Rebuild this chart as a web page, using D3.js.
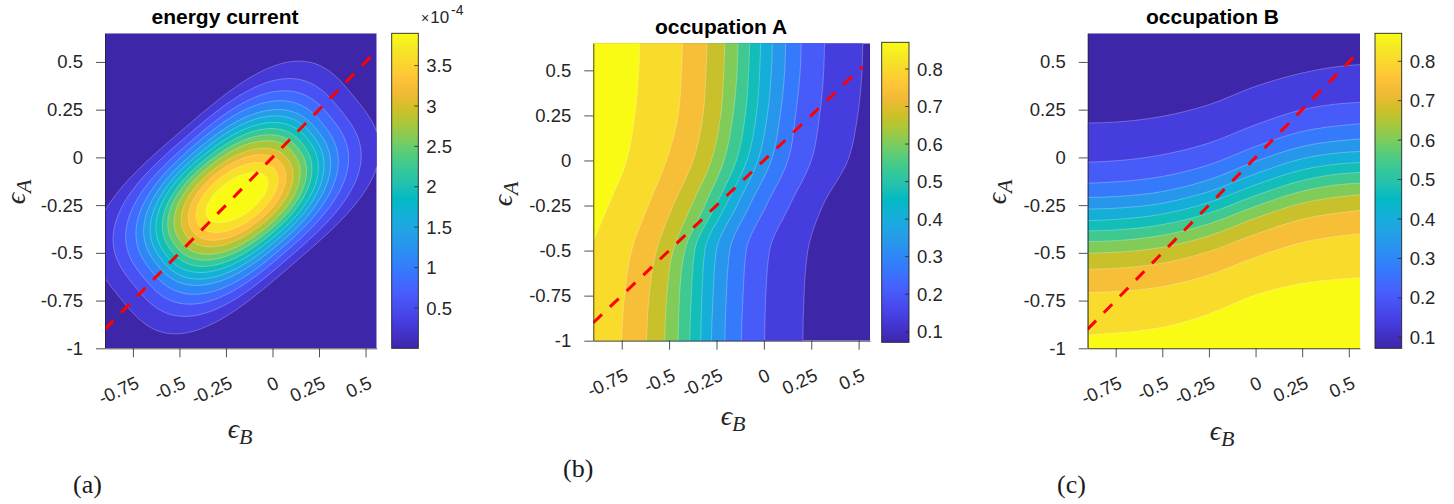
<!DOCTYPE html>
<html lang="en">
<head>
<meta charset="UTF-8">
<title>energy current / occupation A / occupation B</title>
<script src="https://cdn.jsdelivr.net/npm/d3@7"></script>
<style>
  body { margin: 0; background: #fff; }
  svg text { font-family: "Liberation Sans", Arial, sans-serif; }
  .serif { font-family: "Liberation Serif", "DejaVu Serif", serif; }
</style>
</head>
<body>
<svg id="fig" width="1454" height="504"></svg>
<script>
// shared axes
const xTicks = [-0.75, -0.5, -0.25, 0, 0.25, 0.5];
const yTicks = [-1, -0.75, -0.5, -0.25, 0, 0.25, 0.5];
const xDomain = [-0.9, 0.56];
const yDomain = [-1, 0.65];
const diagStart = -0.9;
const diagEnd = [0.535, 0.52, 0.538];   // end of the red dashed eps_A = eps_B line, per panel

// (a) energy current (x 1e-4): nested contours around the peak, outermost first
const energyCenter = [-0.19, -0.21];
const energyMajor = [0.82, 0.72, 0.655, 0.60, 0.556, 0.52, 0.486, 0.45, 0.417, 0.381, 0.338, 0.297, 0.251, 0.19];
const energyMinor = [0.46, 0.42, 0.385, 0.357, 0.33, 0.307, 0.285, 0.263, 0.242, 0.22, 0.192, 0.167, 0.136, 0.095];
const energyPower = [3.2, 2.9, 2.7, 2.55, 2.45, 2.4, 2.35, 2.3, 2.25, 2.2, 2.15, 2.1, 2.05, 2.0];
const energyTilt = [40, 40, 40, 40, 39, 39, 38, 38, 37, 37, 36, 36, 35, 34];
const energyRange = [0, 3.9];
const energyTicks = [0.5, 1, 1.5, 2, 2.5, 3, 3.5];

// (b) occupation A: eps_B of each contour line at these eps_A rows (low-value side first)
const occARows = [0.65, 0.5, 0.25, 0, -0.25, -0.5, -0.75, -1];
const occALines = [
  [0.522, 0.518, 0.495, 0.443, 0.311, 0.232, 0.212, 0.206],
  [0.320, 0.316, 0.294, 0.250, 0.136, 0.030, 0.010, 0.004],
  [0.197, 0.192, 0.167, 0.127, 0.013, -0.093, -0.110, -0.119],
  [0.115, 0.110, 0.086, 0.039, -0.075, -0.180, -0.198, -0.206],
  [0.045, 0.040, 0.018, -0.031, -0.142, -0.251, -0.268, -0.277],
  [-0.017, -0.022, -0.040, -0.089, -0.201, -0.312, -0.327, -0.333],
  [-0.075, -0.080, -0.098, -0.145, -0.254, -0.365, -0.383, -0.391],
  [-0.136, -0.141, -0.163, -0.210, -0.312, -0.417, -0.445, -0.452],
  [-0.206, -0.211, -0.228, -0.277, -0.382, -0.479, -0.512, -0.523],
  [-0.300, -0.305, -0.321, -0.373, -0.479, -0.567, -0.605, -0.619],
  [-0.429, -0.434, -0.452, -0.514, -0.610, -0.698, -0.735, -0.751],
  [-0.654, -0.660, -0.681, -0.724, -0.820, -0.915, -0.96, -0.97]
];

// (c) occupation B: eps_A of each contour line at these eps_B columns (low-value side first)
const occBCols = [-0.9, -0.75, -0.5, -0.25, 0, 0.25, 0.5, 0.56];
const occBLines = [
  [0.180, 0.185, 0.215, 0.276, 0.372, 0.442, 0.482, 0.486],
  [-0.025, -0.018, 0.014, 0.075, 0.171, 0.250, 0.285, 0.288],
  [-0.135, -0.128, -0.100, -0.039, 0.057, 0.136, 0.171, 0.176],
  [-0.210, -0.205, -0.179, -0.117, -0.021, 0.057, 0.092, 0.096],
  [-0.271, -0.266, -0.240, -0.179, -0.086, -0.007, 0.028, 0.031],
  [-0.331, -0.325, -0.297, -0.236, -0.144, -0.065, -0.030, -0.027],
  [-0.385, -0.380, -0.352, -0.292, -0.200, -0.121, -0.082, -0.079],
  [-0.441, -0.436, -0.408, -0.348, -0.256, -0.177, -0.138, -0.135],
  [-0.502, -0.497, -0.471, -0.411, -0.318, -0.240, -0.201, -0.196],
  [-0.586, -0.581, -0.554, -0.493, -0.402, -0.324, -0.284, -0.278],
  [-0.708, -0.703, -0.677, -0.616, -0.523, -0.446, -0.406, -0.401],
  [-0.93, -0.92, -0.89, -0.82, -0.72, -0.66, -0.634, -0.63]
];
const occRange = [0.072, 0.871];
const occTicks = [0.1, 0.2, 0.3, 0.4, 0.5, 0.6, 0.7, 0.8];

// parula
const parulaStops = [
  [0.2422,0.1504,0.6603],[0.2647,0.1978,0.7952],[0.2783,0.2559,0.8991],[0.2810,0.3228,0.9579],
  [0.2699,0.3892,0.9906],[0.2206,0.4603,0.9973],[0.1786,0.5289,0.9682],[0.1540,0.5902,0.9218],
  [0.1248,0.6459,0.8883],[0.0689,0.6948,0.8394],[0.0067,0.7312,0.7660],[0.1408,0.7584,0.6842],
  [0.2161,0.7843,0.5923],[0.3406,0.8008,0.4789],[0.5044,0.7993,0.3480],[0.6720,0.7793,0.2227],
  [0.8203,0.7498,0.1535],[0.9393,0.7288,0.2100],[0.9970,0.7659,0.2199],[0.9786,0.8386,0.1766],
  [0.9597,0.9135,0.1423],[0.9769,0.9839,0.0805]
].map(c => d3.rgb(c[0]*255, c[1]*255, c[2]*255).formatHex());
const parula = d3.scaleLinear()
  .domain(parulaStops.map((c, i) => i / (parulaStops.length - 1)))
  .range(parulaStops)
  .interpolate(d3.interpolateRgb)
  .clamp(true);

const panels = [
  {id: "a", left: 105, top: 33.3, w: 271.7, h: 315, cb: [391.7, 33.3, 26.6, 315],
   title: "energy current", tx: 225, ty: 24, xl: [240, 438], yl: [25, 192], tag: [73, 493],
   range: energyRange, ticks: energyTicks, bands: 15},
  {id: "b", left: 593.3, top: 43.3, w: 276.7, h: 297.4, cb: [881.7, 42.3, 27.3, 300],
   title: "occupation A", tx: 721, ty: 34, xl: [733, 425], yl: [512, 194], tag: [563, 477],
   range: occRange, ticks: occTicks, bands: 13},
  {id: "c", left: 1087.7, top: 33.3, w: 272.3, h: 315, cb: [1375, 33.3, 26.7, 315],
   title: "occupation B", tx: 1212.5, ty: 23.5, xl: [1222, 440], yl: [1006, 192], tag: [1057, 493],
   range: occRange, ticks: occTicks, bands: 13}
];

const svg = d3.select("#fig");
const defs = svg.append("defs");
const grad = defs.append("linearGradient").attr("id", "parulaGrad")
  .attr("x1", 0).attr("y1", 1).attr("x2", 0).attr("y2", 0);
parulaStops.forEach((c, i) => grad.append("stop")
  .attr("offset", i / (parulaStops.length - 1)).attr("stop-color", c));

const seam = "rgba(255,255,255,0.38)";

function energyContour(k) {
  const a = energyMajor[k], b = energyMinor[k], n = energyPower[k];
  const th = energyTilt[k] * Math.PI / 180;
  return d3.range(0, 360, 2).map(deg => {
    const t = deg * Math.PI / 180, c = Math.cos(t), s = Math.sin(t);
    const u = a * Math.sign(c) * Math.pow(Math.abs(c), 2 / n);
    const v = b * Math.sign(s) * Math.pow(Math.abs(s), 2 / n);
    return [energyCenter[0] + u * Math.cos(th) - v * Math.sin(th),
            energyCenter[1] + u * Math.sin(th) + v * Math.cos(th)];
  });
}

panels.forEach((p, pi) => {
  const g = svg.append("g").attr("transform", `translate(${p.left},${p.top})`);
  const x = d3.scaleLinear().domain(xDomain).range([0, p.w]);
  const y = d3.scaleLinear().domain(yDomain).range([p.h, 0]);
  const band = k => parula(k / (p.bands - 1));

  defs.append("clipPath").attr("id", "clip" + p.id)
    .append("rect").attr("width", p.w).attr("height", p.h);
  const plot = g.append("g").attr("clip-path", `url(#clip${p.id})`);
  plot.append("rect").attr("width", p.w).attr("height", p.h).attr("fill", band(0));

  if (p.id === "a") {
    const line = d3.line().x(d => x(d[0])).y(d => y(d[1])).curve(d3.curveLinearClosed);
    energyMajor.forEach((_, k) => {
      plot.append("path").attr("d", line(energyContour(k)))
        .attr("fill", band(k + 1)).attr("stroke", seam).attr("stroke-width", 0.7);
    });
  } else if (p.id === "b") {
    const area = d3.area().curve(d3.curveMonotoneY)
      .y((d, i) => y(occARows[i])).x0(x(-1.3)).x1(d => x(d));
    const edge = d3.line().curve(d3.curveMonotoneY)
      .y((d, i) => y(occARows[i])).x(d => x(d));
    occALines.forEach((ln, j) => {
      plot.append("path").attr("d", area(ln)).attr("fill", band(j + 1));
      plot.append("path").attr("d", edge(ln)).attr("fill", "none")
        .attr("stroke", seam).attr("stroke-width", 0.7);
    });
  } else {
    const area = d3.area().curve(d3.curveMonotoneX)
      .x((d, i) => x(occBCols[i])).y0(y(-1.3)).y1(d => y(d));
    const edge = d3.line().curve(d3.curveMonotoneX)
      .x((d, i) => x(occBCols[i])).y(d => y(d));
    occBLines.forEach((ln, j) => {
      plot.append("path").attr("d", area(ln)).attr("fill", band(j + 1));
      plot.append("path").attr("d", edge(ln)).attr("fill", "none")
        .attr("stroke", seam).attr("stroke-width", 0.7);
    });
  }

  // red dashed diagonal
  plot.append("path")
    .attr("d", d3.line().x(d => x(d)).y(d => y(d))([diagStart, diagEnd[pi]]))
    .attr("stroke", "#ff0000").attr("stroke-width", 3)
    .attr("stroke-dasharray", "12,11").attr("fill", "none");

  // axes
  const ya = g.append("g")
    .call(d3.axisLeft(y).tickValues(yTicks).tickSize(9).tickSizeOuter(0).tickPadding(13)
      .tickFormat(d => String(d)))
    .attr("font-size", null).attr("font-family", null);
  const xa = g.append("g").attr("transform", `translate(0,${p.h})`)
    .call(d3.axisBottom(x).tickValues(xTicks).tickSize(9).tickSizeOuter(0)
      .tickFormat(d => String(d)))
    .attr("font-size", null).attr("font-family", null);
  xa.selectAll("text").attr("y", 0).attr("dy", 0)
    .attr("text-anchor", "end")
    .attr("transform", "translate(7,39) rotate(-25)");
  [ya, xa].forEach(a => {
    a.select(".domain").attr("stroke", "#262626").attr("stroke-width", 0.8);
    a.selectAll(".tick line").attr("stroke", "#262626").attr("stroke-width", 0.8);
    a.selectAll("text").attr("fill", "#262626").style("font-size", "18.5px");
  });

  // colorbar
  const [cx, cy, cw, ch] = p.cb;
  const cb = svg.append("g").attr("transform", `translate(${cx},${cy})`);
  const cs = d3.scaleLinear().domain(p.range).range([ch, 0]);
  cb.append("rect").attr("width", cw).attr("height", ch).attr("fill", "url(#parulaGrad)");
  cb.selectAll("line.t").data(p.ticks).join("line").attr("class", "t")
    .attr("x1", cw - 4).attr("x2", cw).attr("y1", d => cs(d)).attr("y2", d => cs(d))
    .attr("stroke", "#262626").attr("stroke-width", 0.8);
  cb.append("rect").attr("width", cw).attr("height", ch)
    .attr("fill", "none").attr("stroke", "#262626").attr("stroke-width", 0.9);
  cb.selectAll("text.t").data(p.ticks).join("text").attr("class", "t")
    .attr("x", cw + 8).attr("y", d => cs(d)).attr("dy", "0.36em")
    .attr("fill", "#262626").style("font-size", "18.5px")
    .text(d => String(d));

  // title
  svg.append("text").attr("x", p.tx).attr("y", p.ty).attr("text-anchor", "middle")
    .attr("fill", "#000").style("font-weight", "bold").style("font-size", "21px")
    .text(p.title);

  // epsilon labels
  const lab = (pos, sub, rot) => {
    const t = svg.append("text").attr("class", "serif")
      .attr("transform", `translate(${pos[0]},${pos[1]})` + (rot ? " rotate(-90)" : ""))
      .attr("text-anchor", "middle").attr("fill", "#262626").style("font-style", "italic");
    t.append("tspan").style("font-size", "28px").text("\u03F5");
    t.append("tspan").style("font-size", "22px").attr("dy", 6).text(sub);
  };
  lab(p.xl, "B", false);
  lab(p.yl, "A", true);

  // panel tag
  svg.append("text").attr("class", "serif").attr("x", p.tag[0]).attr("y", p.tag[1])
    .attr("fill", "#1a1a1a").style("font-size", "26px").text(`(${p.id})`);
});

// exponent above the energy colorbar
const ex = svg.append("text").attr("x", 421).attr("y", 23).attr("fill", "#262626");
ex.append("tspan").style("font-size", "14px").text("\u00D7");
ex.append("tspan").style("font-size", "17px").attr("dx", 1).text("10");
ex.append("tspan").style("font-size", "14px").attr("dx", 2).attr("dy", -8).text("-4");
</script>
</body>
</html>
